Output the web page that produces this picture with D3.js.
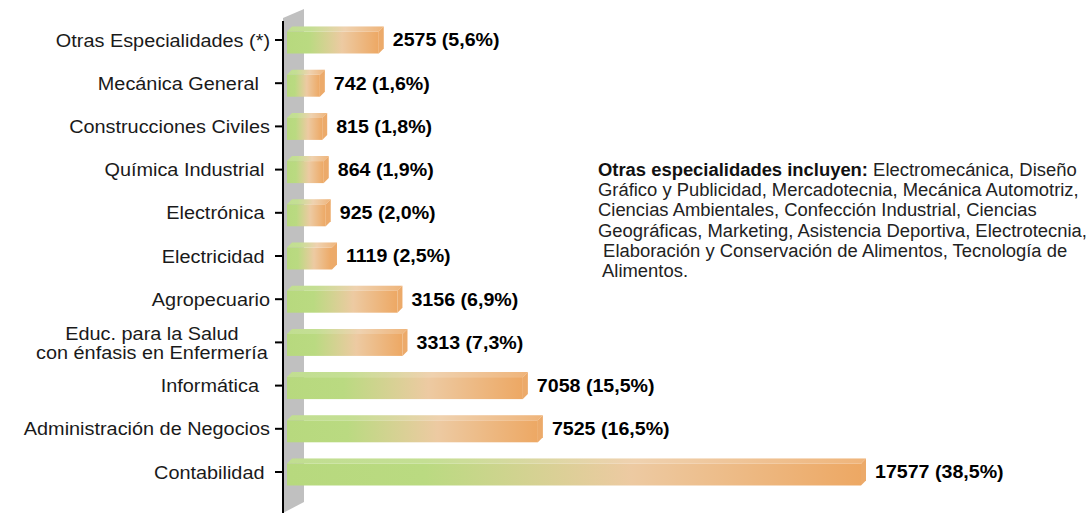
<!DOCTYPE html>
<html>
<head>
<meta charset="utf-8">
<script src="https://cdn.jsdelivr.net/npm/d3@7"></script>
<style>
  html, body { margin: 0; padding: 0; background: #fff; }
  svg { display: block; font-family: "Liberation Sans", Arial, sans-serif; }
</style>
</head>
<body>
<svg id="chart" width="1089" height="513"></svg>
<script>
const categories = [
  "Otras Especialidades (*)",
  "Mecánica General\u00a0\u00a0",
  "Construcciones Civiles",
  "Química Industrial\u00a0",
  "Electrónica\u00a0",
  "Electricidad\u00a0",
  "Agropecuario",
  "Educ. para la Salud\ncon énfasis en Enfermería",
  "Informática\u00a0\u00a0",
  "Administración de Negocios",
  "Contabilidad\u00a0"
];
const values = [2575, 742, 815, 864, 925, 1119, 3156, 3313, 7058, 7525, 17577];
const percents = [5.6, 1.6, 1.8, 1.9, 2.0, 2.5, 6.9, 7.3, 15.5, 16.5, 38.5];
const noteBold = "Otras especialidades incluyen:";
const noteLines = [
  " Electromecánica, Diseño",
  "Gráfico y Publicidad, Mercadotecnia, Mecánica Automotriz,",
  "Ciencias Ambientales, Confección Industrial, Ciencias",
  "Geográficas, Marketing, Asistencia Deportiva, Electrotecnia,",
  " Elaboración y Conservación de Alimentos, Tecnología de",
  " Alimentos."
];

const svg = d3.select("#chart");
const axisX = 283, barLeft = 287, barH = 27, depth = 5;

const y = d3.scalePoint().domain(categories).range([40, 472]);
const x = d3.scaleLinear().domain([0, d3.max(values)]).range([301, 866]);

const defs = svg.append("defs");
const grad = defs.append("linearGradient").attr("id", "barGrad")
  .attr("x1", 0).attr("y1", 0.5).attr("x2", 1).attr("y2", 0.5);
[[0, "#b7d97e"], [0.24, "#bada81"], [0.6, "#edcaa2"], [1, "#eda864"]].forEach(s =>
  grad.append("stop").attr("offset", s[0]).attr("stop-color", s[1]));

// grey wall
svg.append("polygon")
  .attr("points", [[axisX, 18], [304, 9], [304, 502], [axisX, 513]].map(p => p.join(",")).join(" "))
  .attr("fill", "#c0c0c0");

// axis line and ticks
svg.append("line").attr("x1", axisX).attr("x2", axisX).attr("y1", 21).attr("y2", 513)
  .attr("stroke", "#000").attr("stroke-width", 2);
svg.selectAll(".tick").data(categories).join("line")
  .attr("x1", 275).attr("x2", axisX)
  .attr("y1", d => y(d)).attr("y2", d => y(d))
  .attr("stroke", "#000").attr("stroke-width", 2);

// bars
const bars = svg.selectAll(".bar").data(categories).join("g").attr("class", "bar");
bars.each(function(d, i) {
  const g = d3.select(this);
  const x0 = barLeft, x1 = x(values[i]);
  const y0 = y(d) - barH / 2, y1 = y(d) + barH / 2;
  const top = [[x0, y0 + depth], [x0 + depth, y0], [x1, y0], [x1 - depth, y0 + depth]];
  g.append("rect").attr("x", x0).attr("y", y0 + depth)
    .attr("width", x1 - depth - x0).attr("height", y1 - y0 - depth)
    .attr("fill", "url(#barGrad)");
  g.append("polygon").attr("points", top.map(p => p.join(",")).join(" "))
    .attr("fill", "url(#barGrad)");
  g.append("polygon").attr("points", top.map(p => p.join(",")).join(" "))
    .attr("fill", "#fff").attr("opacity", 0.15);
  g.append("polygon").attr("points",
    [[x1 - depth, y0 + depth], [x1, y0], [x1, y1 - depth], [x1 - depth, y1]].map(p => p.join(",")).join(" "))
    .attr("fill", "#ecaa6a");
  g.append("text")
    .attr("transform", `translate(${x1 + 9},${y(d)}) scale(1.09,1)`)
    .attr("dy", "0.36em")
    .attr("font-size", 18).attr("font-weight", "bold").attr("fill", "#000")
    .text(values[i] + " (" + percents[i].toFixed(1).replace(".", ",") + "%)");
});

// category labels
svg.selectAll(".cat").data(categories).join("text").attr("class", "cat")
  .attr("font-size", 18.5).attr("fill", "#1a1a1a")
  .style("white-space", "pre")
  .attr("transform", d => `translate(270,${y(d)}) scale(1.074,1)`)
  .each(function(d) {
    const t = d3.select(this);
    const lines = d.split("\n");
    if (lines.length === 1) {
      t.attr("x", 0).attr("y", 0).attr("dy", "0.36em").attr("text-anchor", "end").text(d);
    } else {
      const spans = lines.map((l, k) => t.append("tspan").text(l)
        .attr("y", (k - (lines.length - 1) / 2) * 19).attr("dy", "0.36em"));
      const w = d3.max(spans, s => s.node().getComputedTextLength());
      spans.forEach(s => s.attr("x", -2 - w / 2).attr("text-anchor", "middle"));
    }
  });

// note
const note = svg.append("text").attr("font-size", 17.6).attr("fill", "#222")
  .attr("transform", "translate(598,0) scale(1.046,1)");
noteLines.forEach((l, k) => {
  const ts = note.append("tspan").attr("x", 0).attr("y", 176 + k * 20.2);
  if (k === 0) {
    ts.append("tspan").attr("font-weight", "bold").attr("fill", "#111").text(noteBold);
    ts.append("tspan").text(l);
  } else {
    ts.text(l);
  }
});
</script>
</body>
</html>
